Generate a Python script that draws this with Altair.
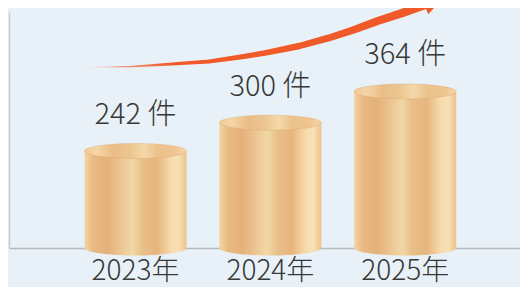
import altair as alt
import pandas as pd

# ---- data ----
years = [2023, 2024, 2025]
values = [242, 300, 364]
base_value = 43.1          # value at the baseline of the cylinders
year_labels = [f"{y}年" for y in years]
value_labels = [f"{v} 件" for v in values]

# decorative growth arrow, in (year, value) units
arrow_x = [2022.636, 2022.978, 2023.269, 2023.545, 2023.778, 2023.960,
           2024.215, 2024.433, 2024.615, 2024.796, 2024.978, 2025.145]
arrow_y = [413.6, 415.3, 420.4, 425.5, 434.7, 442.9,
           457.3, 473.7, 490.1, 508.6, 525.0, 541.4]
arrow_w = [0.6, 1.6, 3.0, 4.0, 5.0, 5.6, 6.4, 7.0, 7.6, 8.0, 8.4, 8.6]
head_x = [2025.213]
head_y = [548.7]

df = pd.DataFrame({"year": years, "value": values, "base": [base_value] * 3,
                   "ylab": year_labels, "vlab": value_labels})
arrow = pd.DataFrame({"ax": arrow_x, "ay": arrow_y, "aw": arrow_w,
                      "ord": list(range(len(arrow_x)))})
head = pd.DataFrame({"hx": head_x, "hy": head_y})

xs = alt.Scale(domain=[2022.0982, 2025.8145], nice=False, zero=False)
ys = alt.Scale(domain=[43.1, 527.0], nice=False, zero=False)
AX = alt.Axis(labels=False, ticks=False, grid=False, title=None,
              domainColor="#b4babe", domainWidth=1.6)
AY = alt.Axis(labels=False, ticks=False, grid=False, title=None,
              domainColor="#c8d0d5", domainWidth=1.6)

FONT = '"Noto Sans CJK SC Light", "Noto Sans CJK SC", sans-serif'

def grad(stops):
    return alt.LinearGradient(
        gradient="linear", x1=0, x2=1, y1=0, y2=0,
        stops=[alt.GradientStop(offset=o, color=c) for o, c in stops])

body_grad = grad([(0.0, "#f4d4a3"), (0.08, "#e9bb83"), (0.22, "#e4b079"),
                  (0.36, "#ecc692"), (0.47, "#f1d8a6"), (0.57, "#e9bf89"),
                  (0.71, "#e6b57d"), (0.85, "#f6dbae"), (0.92, "#f9e1b6"),
                  (1.0, "#ecc28b")])
top_grad = grad([(0.0, "#f0c994"), (0.12, "#f5d5a6"), (0.28, "#eabd86"),
                 (0.45, "#ecc691"), (0.58, "#f4d9a8"), (0.72, "#ebc18c"),
                 (0.88, "#eec48f"), (1.0, "#f5d6a5")])
arrow_grad = alt.LinearGradient(
    gradient="linear", x1=0, x2=1, y1=0, y2=0,
    stops=[alt.GradientStop(offset=0, color="rgba(240,90,40,0)"),
           alt.GradientStop(offset=0.12, color="rgba(240,90,40,0.65)"),
           alt.GradientStop(offset=0.25, color="#f05a28"),
           alt.GradientStop(offset=1, color="#f05a28")])

R = 0.147
bottom_half = f"M-1,0A1,{R},0,0,0,1,0Z"
full_ell = f"M-1,0A1,{R},0,0,0,1,0A1,{R},0,0,0,-1,0Z"
SYM = 102 * 102

basec = alt.Chart(df)
body = basec.mark_bar(size=102, color=body_grad).encode(
    x=alt.X("year:Q", scale=xs, axis=AX),
    y=alt.Y("value:Q", scale=ys, axis=AY),
    y2="base:Q")
bottom = basec.mark_point(shape=bottom_half, size=SYM, filled=True,
                          fill=body_grad, opacity=1, strokeWidth=0).encode(
    x=alt.X("year:Q", scale=xs, axis=AX),
    y=alt.Y("base:Q", scale=ys, axis=AY))
top = basec.mark_point(shape=full_ell, size=SYM, filled=True, fill=top_grad,
                       opacity=1, stroke="#d8a870", strokeWidth=0.7,
                       strokeOpacity=0.6).encode(
    x=alt.X("year:Q", scale=xs, axis=AX),
    y=alt.Y("value:Q", scale=ys, axis=AY))
vtext = basec.mark_text(font=FONT, fontSize=29, fontWeight=300,
                        color="#383838", baseline="alphabetic", align="center",
                        dy=-27).encode(
    x=alt.X("year:Q", scale=xs, axis=AX),
    y=alt.Y("value:Q", scale=ys, axis=AY),
    text="vlab:N")
ytext = basec.mark_text(font=FONT, fontSize=28, fontWeight=300,
                        color="#383838", baseline="alphabetic", align="center",
                        dy=32).encode(
    x=alt.X("year:Q", scale=xs, axis=AX),
    y=alt.Y("base:Q", scale=ys, axis=AY),
    text="ylab:N")
trail = alt.Chart(arrow).mark_trail(color=arrow_grad).encode(
    x=alt.X("ax:Q", scale=xs, axis=AX),
    y=alt.Y("ay:Q", scale=ys, axis=AY),
    size=alt.Size("aw:Q", scale=None, legend=None),
    order="ord:O")
headm = alt.Chart(head).mark_point(shape="M-1,-1L1,0L-1,1Z", size=400,
                                   filled=True, fill="#f05a28", opacity=1,
                                   strokeWidth=0, angle=339).encode(
    x=alt.X("hx:Q", scale=xs, axis=AX),
    y=alt.Y("hy:Q", scale=ys, axis=AY))

chart = alt.layer(body, bottom, top, vtext, ytext, trail, headm).properties(
    width=511, height=236,
    padding={"left": 1, "top": 4, "right": 0, "bottom": 39},
    autosize="none", background="#e8f1f7"
).configure_view(stroke=None)

chart.save("out.html", embed_options={"renderer": "svg", "actions": False})
